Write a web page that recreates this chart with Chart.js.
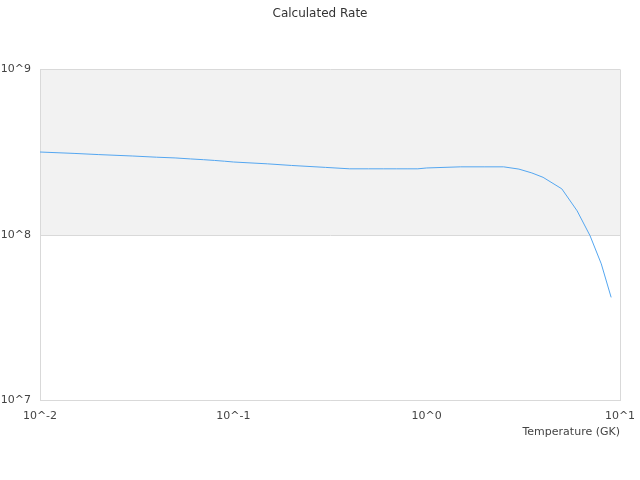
<!DOCTYPE html>
<html>
<head>
<meta charset="utf-8">
<script src="https://cdn.jsdelivr.net/npm/chart.js@4/dist/chart.umd.min.js"></script>
<style>
html,body{margin:0;padding:0;background:#fff;}
#wrap{width:640px;height:480px;}
</style>
</head>
<body>
<div id="wrap"><canvas id="c"></canvas></div>
<script>
const temperatures = [0.01,0.015,0.02,0.03,0.04,0.05,0.06,0.07,0.08,0.09,0.1,0.15,0.2,0.3,0.4,0.5,0.6,0.7,0.8,0.9,1,1.5,2,2.5,3,3.5,4,5,6,7,8,9];
const rates = [3.17e8,3.11e8,3.06e8,3.00e8,2.95e8,2.92e8,2.88e8,2.85e8,2.82e8,2.79e8,2.76e8,2.69e8,2.63e8,2.56e8,2.51e8,2.51e8,2.51e8,2.51e8,2.51e8,2.51e8,2.54e8,2.58e8,2.58e8,2.58e8,2.50e8,2.37e8,2.23e8,1.90e8,1.40e8,9.9e7,6.7e7,4.2e7];
const xTicks = [0.01,0.1,1,10];
const yTicks = [1e7,1e8,1e9];
const bandRange = [1e8,1e9];
const fmtPow = v => '10^' + Math.round(Math.log10(v));

const bandPlugin = {
  id:'band',
  beforeDraw(chart){
    const {ctx, chartArea:a, scales:{y}} = chart;
    const top = y.getPixelForValue(bandRange[1]);
    const bot = y.getPixelForValue(bandRange[0]);
    ctx.save();
    ctx.fillStyle = '#f2f2f2';
    ctx.fillRect(a.left, top, a.right - a.left, bot - top);
    ctx.restore();
  },
  afterDraw(chart){
    const {ctx, chartArea:a} = chart;
    ctx.save();
    ctx.strokeStyle = '#d9d9d9';
    ctx.lineWidth = 1;
    ctx.beginPath();
    ctx.moveTo(Math.round(a.right)+0.5, a.top);
    ctx.lineTo(Math.round(a.right)+0.5, a.bottom);
    ctx.stroke();
    ctx.restore();
  }
};

new Chart(document.getElementById('c'), {
  type:'line',
  data:{
    datasets:[{
      data: temperatures.map((t,i)=>({x:t,y:rates[i]})),
      borderColor:'rgb(84,166,240)',
      borderWidth:1,
      pointRadius:0,
      fill:false,
      tension:0
    }]
  },
  options:{
    responsive:true,
    maintainAspectRatio:false,
    animation:false,
    devicePixelRatio:1,
    layout:{padding:{left:0,right:0,top:0,bottom:41}},
    plugins:{
      legend:{display:false},
      tooltip:{enabled:false},
      title:{
        display:true,
        text:'Calculated Rate',
        color:'#333',
        font:{family:'DejaVu Sans',size:12,weight:'normal'},
        padding:{top:7,bottom:48}
      }
    },
    scales:{
      x:{
        type:'logarithmic',
        min:0.01,max:10,
        afterBuildTicks(s){ s.ticks = xTicks.map(v=>({value:v})); },
        afterFit(s){ s.paddingRight = 20; s.paddingLeft = 0; },
        ticks:{
          color:'#444',
          font:{family:'DejaVu Sans',size:11},
          maxRotation:0,
          autoSkip:false,
          padding:9,
          callback:v=>fmtPow(v)
        },
        grid:{display:false,drawTicks:false},
        border:{display:true,color:'#d9d9d9'},
        title:{
          display:true,
          text:'Temperature (GK)',
          align:'end',
          color:'#444',
          font:{family:'DejaVu Sans',size:11},
          padding:{top:-6,bottom:0}
        }
      },
      y:{
        type:'logarithmic',
        min:1e7,max:1e9,
        afterBuildTicks(s){ s.ticks = yTicks.map(v=>({value:v})); },
        afterFit(s){ s.width = 40; },
        ticks:{
          color:'#444',
          font:{family:'DejaVu Sans',size:11},
          padding:9,
          autoSkip:false,
          callback:v=>fmtPow(v)
        },
        grid:{color:'#d9d9d9',drawTicks:false,lineWidth:1},
        border:{display:true,color:'#d9d9d9'}
      }
    }
  },
  plugins:[bandPlugin]
});
</script>
</body>
</html>
